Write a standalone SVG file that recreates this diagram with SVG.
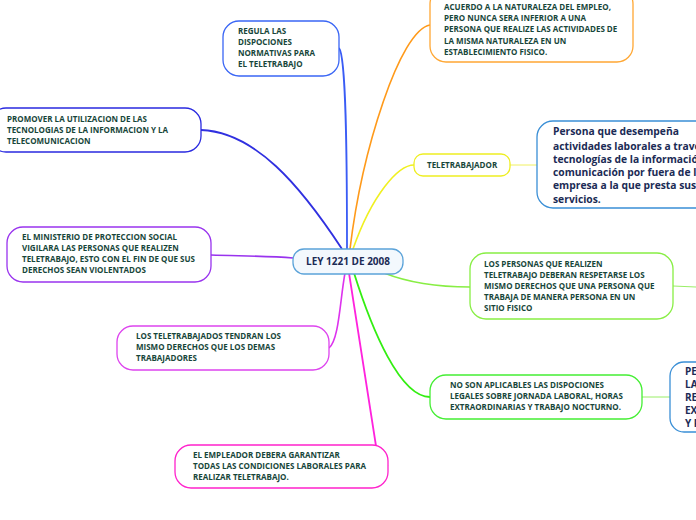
<svg xmlns="http://www.w3.org/2000/svg" width="696" height="520" viewBox="0 0 696 520">
<style>
.n{fill:#fff;stroke-width:1.3}
.t{font-family:"Open Sans","DejaVu Sans",sans-serif;font-size:8px;font-weight:bold;fill:#17463a}
.b{font-family:"Open Sans","DejaVu Sans",sans-serif;font-size:10.3px;font-weight:bold;fill:#1b2b55}
.c{fill:none}
</style>
<rect width="696" height="520" fill="#fff"/>
<g id="connectors">
<path class="c" d="M339,48 C346,56 347,150 347,249" stroke="#3a5cf5" stroke-width="1.8"/>
<path class="c" d="M201,130 C255,132 300,185 342,249" stroke="#3030e0" stroke-width="1.8"/>
<path class="c" d="M430,25 C400,30 362,150 350,249" stroke="#ff9a1a" stroke-width="1.6"/>
<path class="c" d="M414,165 C398,165 372,195 353,249" stroke="#f0f020" stroke-width="1.6"/>
<path class="c" d="M384,273 C412,284 440,287 470,287" stroke="#88ee44" stroke-width="1.5"/>
<path class="c" d="M354,273 C372,330 400,397 430,397" stroke="#33ee11" stroke-width="1.8"/>
<path class="c" d="M349,273 L376,446 C380,460 385,465 388,466" stroke="#ff22dd" stroke-width="1.8"/>
<path class="c" d="M329,348 C339,340 340,300 345,273" stroke="#dd33ee" stroke-width="1.6"/>
<path class="c" d="M211,255 C240,256 268,256 293,258" stroke="#9933ee" stroke-width="1.6"/>
<path class="c" d="M510,165 L537,165" stroke="#f0f060" stroke-width="1"/>
<path class="c" d="M673,286 L696,287" stroke="#99ee66" stroke-width="1"/>
<path class="c" d="M642,397 L670,397" stroke="#99ee66" stroke-width="1"/>
</g>
<g id="central">
<rect x="293" y="249" width="110" height="25" rx="11" fill="#f3f8fd" stroke="#5ba3d9" stroke-width="1.3"/>
<text x="348" y="265" text-anchor="middle" font-family="'Open Sans','DejaVu Sans',sans-serif" font-size="10px" font-weight="bold" fill="#1b2b55">LEY 1221 DE 2008</text>
</g>
<g id="regula">
<rect class="n" x="223" y="21" width="116" height="55" rx="16" stroke="#3a66f5"/>
<text class="t"><tspan x="238" y="34">REGULA LAS</tspan><tspan x="238" y="45">DISPOCIONES</tspan><tspan x="238" y="56">NORMATIVAS PARA</tspan><tspan x="238" y="67">EL TELETRABAJO</tspan></text>
</g>
<g id="promover">
<rect class="n" x="-10" y="108" width="211" height="44" rx="16" stroke="#2a2ae0"/>
<text class="t"><tspan x="7" y="122">PROMOVER LA UTILIZACION DE LAS</tspan><tspan x="7" y="133">TECNOLOGIAS DE LA INFORMACION Y LA</tspan><tspan x="7" y="144">TELECOMUNICACION</tspan></text>
</g>
<g id="acuerdo">
<rect class="n" x="430" y="-12" width="203" height="74" rx="16" stroke="#ffa733"/>
<text class="t"><tspan x="444" y="10">ACUERDO A LA NATURALEZA DEL EMPLEO,</tspan><tspan x="444" y="21">PERO NUNCA SERA INFERIOR A UNA</tspan><tspan x="444" y="32">PERSONA QUE REALIZE LAS ACTIVIDADES DE</tspan><tspan x="444" y="44">LA MISMA NATURALEZA EN UN</tspan><tspan x="444" y="55">ESTABLECIMIENTO FISICO.</tspan></text>
</g>
<g id="teletrabajador">
<rect class="n" x="414" y="154" width="96" height="22" rx="9" stroke="#eeee22"/>
<text class="t" x="427" y="168">TELETRABAJADOR</text>
</g>
<g id="persona">
<rect class="n" x="537" y="121" width="180" height="87" rx="16" stroke="#3a8fd6"/>
<text class="b"><tspan x="553" y="135">Persona que desempeña</tspan><tspan x="553" y="150">actividades laborales a través</tspan><tspan x="553" y="163">tecnologías de la información</tspan><tspan x="553" y="176">comunicación por fuera de la</tspan><tspan x="553" y="189">empresa a la que presta sus</tspan><tspan x="553" y="203">servicios.</tspan></text>
</g>
<g id="los-personas">
<rect class="n" x="470" y="253" width="203" height="66" rx="16" stroke="#88ee44"/>
<text class="t"><tspan x="484" y="267">LOS PERSONAS QUE REALIZEN</tspan><tspan x="484" y="278">TELETRABAJO DEBERAN RESPETARSE LOS</tspan><tspan x="484" y="289">MISMO DERECHOS QUE UNA PERSONA QUE</tspan><tspan x="484" y="300">TRABAJA DE MANERA PERSONA EN UN</tspan><tspan x="484" y="311">SITIO FISICO</tspan></text>
</g>
<g id="no-son">
<rect class="n" x="430" y="375" width="212" height="44" rx="16" stroke="#44ee33"/>
<text class="t"><tspan x="450" y="388">NO SON APLICABLES LAS DISPOCIONES</tspan><tspan x="450" y="399">LEGALES SOBRE JORNADA LABORAL, HORAS</tspan><tspan x="450" y="410">EXTRAORDINARIAS Y TRABAJO NOCTURNO.</tspan></text>
</g>
<g id="pe">
<rect class="n" x="670" y="362" width="60" height="70" rx="14" stroke="#3a8fd6"/>
<text class="b" style="font-size:10px"><tspan x="685" y="375">PE</tspan><tspan x="685" y="388">LA</tspan><tspan x="685" y="401">RE</tspan><tspan x="685" y="414">EX</tspan><tspan x="685" y="427">Y F</tspan></text>
</g>
<g id="ministerio">
<rect class="n" x="7" y="227" width="204" height="55" rx="16" stroke="#9933ee"/>
<text class="t"><tspan x="22" y="240">EL MINISTERIO DE PROTECCION SOCIAL</tspan><tspan x="22" y="251">VIGILARA LAS PERSONAS QUE REALIZEN</tspan><tspan x="22" y="262">TELETRABAJO, ESTO CON EL FIN DE QUE SUS</tspan><tspan x="22" y="273">DERECHOS SEAN VIOLENTADOS</tspan></text>
</g>
<g id="teletrabajados">
<rect class="n" x="117" y="326" width="212" height="44" rx="16" stroke="#dd44ee"/>
<text class="t"><tspan x="136" y="339">LOS TELETRABAJADOS TENDRAN LOS</tspan><tspan x="136" y="350">MISMO DERECHOS QUE LOS DEMAS</tspan><tspan x="136" y="361">TRABAJADORES</tspan></text>
</g>
<g id="empleador">
<rect class="n" x="175" y="445" width="213" height="43" rx="16" stroke="#ff22cc"/>
<text class="t"><tspan x="193" y="458">EL EMPLEADOR DEBERA GARANTIZAR</tspan><tspan x="193" y="469">TODAS LAS CONDICIONES LABORALES PARA</tspan><tspan x="193" y="480">REALIZAR TELETRABAJO.</tspan></text>
</g>
</svg>
